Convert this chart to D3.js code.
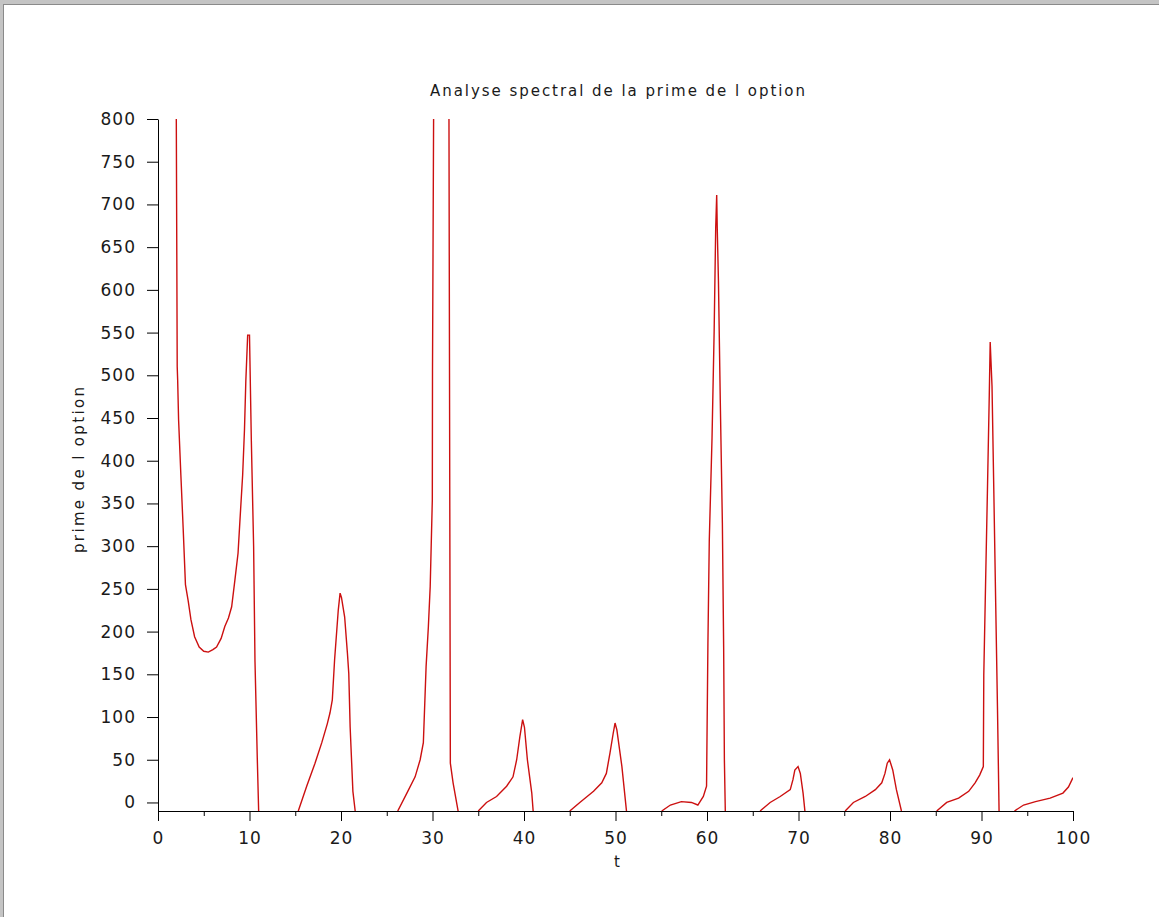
<!DOCTYPE html>
<html lang="fr">
  <head>
    <meta charset="utf-8">
    <title>Analyse spectral de la prime de l option</title>
    <script src="https://d3js.org/d3.v7.min.js"></script>
    <style>
      body { margin: 0; background: #fff; }
      svg { display: block; }
      .tick text { font-family: "DejaVu Sans", sans-serif; font-size: 17px; fill: #1a1a1a; letter-spacing: 1px; }
      .tick line, .domain { stroke: #000; }
      .lbl { font-family: "DejaVu Sans", sans-serif; font-size: 15px; fill: #1a1a1a; }
    </style>
  </head>
  <body>
    <div id="main"></div>
    <script>
      // values, [t, prime] ; each lobe ends at the lower bound
      var lobe1 = [[2.0, 800], [2.1, 510], [2.15, 494], [2.25, 448], [2.5, 383], [2.75, 321], [3.0, 255], [3.3, 236], [3.6, 214], [4.0, 194], [4.5, 182], [5.0, 177], [5.5, 176], [6.0, 179], [6.4, 182], [6.9, 192], [7.3, 206], [7.7, 216], [8.05, 229], [8.4, 260], [8.75, 292], [8.95, 329], [9.25, 383], [9.45, 436], [9.6, 494], [9.8, 547], [10.0, 547], [10.2, 424], [10.45, 300], [10.6, 165], [10.85, 52], [11.0, -10]];
      var lobe2 = [[15.33, -10], [16.25, 19], [17.16, 46], [17.9, 70], [18.5, 92], [18.8, 105], [19.05, 120], [19.3, 167], [19.5, 196], [19.7, 225], [19.9, 245], [20.05, 240], [20.4, 217], [20.7, 175], [20.85, 151], [21.0, 88], [21.3, 13], [21.55, -10]];
      var lobe3 = [[26.2, -10], [27.2, 11], [28.1, 30], [28.65, 50], [29.0, 70], [29.3, 159], [29.55, 206], [29.75, 253], [29.98, 354], [30.0, 505], [30.12, 800], [30.3, 1200], [31.6, 1200], [31.8, 800], [31.95, 46], [32.25, 23], [32.8, -10]];
      var lobe4 = [[35.0, -10], [35.9, 0], [37.0, 7], [38.1, 19], [38.8, 30], [39.2, 50], [39.55, 77], [39.85, 97], [40.05, 88], [40.37, 50], [40.85, 11], [41.0, -10]];
      var lobe5 = [[45.0, -10], [46.1, 0], [47.6, 13], [48.5, 23], [49.0, 34], [49.4, 58], [49.75, 81], [49.95, 93], [50.15, 85], [50.7, 42], [51.2, -10]];
      var lobe6 = [[55.05, -10], [56.0, -3], [57.2, 1], [58.3, 0], [59.0, -3], [59.6, 7], [59.95, 19], [60.1, 186], [60.25, 307], [60.55, 427], [60.78, 551], [60.95, 672], [61.06, 711], [61.12, 672], [61.25, 611], [61.45, 471], [61.68, 327], [61.82, 182], [61.9, 50], [62.0, -10]];
      var lobe7 = [[65.8, -10], [66.9, 0], [68.0, 7], [69.1, 15], [69.4, 27], [69.6, 38], [69.95, 42], [70.2, 34], [70.5, 11], [70.7, -10]];
      var lobe8 = [[75.1, -10], [76.0, 0], [77.3, 7], [78.4, 15], [79.1, 23], [79.45, 34], [79.7, 46], [79.95, 50], [80.3, 38], [80.7, 15], [81.25, -10]];
      var lobe9 = [[85.1, -10], [86.2, 0], [87.5, 5], [88.6, 13], [89.3, 23], [89.8, 32], [90.2, 42], [90.25, 149], [90.45, 259], [90.65, 366], [90.85, 477], [90.95, 539], [91.15, 487], [91.35, 362], [91.55, 234], [91.75, 108], [91.92, -10]];
      var lobe10 = [[93.6, -10], [94.6, -3], [95.9, 1], [97.5, 5], [98.9, 11], [99.5, 18], [100.0, 29]];
      var lobes = [lobe1, lobe2, lobe3, lobe4, lobe5, lobe6, lobe7, lobe8, lobe9, lobe10];

      var xMajor = d3.range(0, 101, 10);
      var xMinor = d3.range(5, 100, 10);
      var yTicks = d3.range(0, 801, 50);

      var W = 1159, H = 917;
      var svg = d3.select("#main").append("svg")
        .attr("width", W)
        .attr("height", H);

      // window frame
      svg.append("rect").attr("x", 0).attr("y", 0).attr("width", W).attr("height", 4).attr("fill", "#c4c4c4");
      svg.append("rect").attr("x", 0).attr("y", 0).attr("width", 3).attr("height", H).attr("fill", "#c4c4c4");
      svg.append("line").attr("x1", 3).attr("x2", W).attr("y1", 4.5).attr("y2", 4.5).attr("stroke", "#8a8a8a");
      svg.append("line").attr("x1", 3.5).attr("x2", 3.5).attr("y1", 4).attr("y2", H).attr("stroke", "#8a8a8a");

      var x = d3.scaleLinear().domain([0, 100]).range([158, 1073]);
      var y = d3.scaleLinear().domain([-10, 800]).range([811, 119]);

      svg.append("clipPath").attr("id", "plotclip")
        .append("rect")
        .attr("x", x(0)).attr("y", y(800))
        .attr("width", x(100) - x(0)).attr("height", y(-10) - y(800));

      var line = d3.line()
        .x(function(d) { return x(d[0]); })
        .y(function(d) { return y(d[1]); });

      svg.append("g").attr("clip-path", "url(#plotclip)")
        .selectAll("path").data(lobes).enter().append("path")
        .attr("d", line)
        .attr("fill", "none")
        .attr("stroke", "#cc1010")
        .attr("stroke-width", 1.4);

      // axes
      svg.append("g")
        .attr("transform", "translate(0," + y(-10) + ")")
        .call(d3.axisBottom(x).tickValues(xMinor).tickSize(5).tickSizeOuter(0).tickFormat(""));
      svg.append("g")
        .attr("transform", "translate(0," + y(-10) + ")")
        .call(d3.axisBottom(x).tickValues(xMajor).tickSize(10).tickSizeOuter(0).tickPadding(11));
      svg.append("g")
        .attr("transform", "translate(" + x(0) + ",0)")
        .call(d3.axisLeft(y).tickValues(yTicks).tickSize(11).tickSizeOuter(0).tickPadding(11));

      // texts
      svg.append("text").attr("class", "lbl")
        .attr("x", 617.5).attr("y", 96)
        .attr("text-anchor", "middle")
        .attr("textLength", 375).attr("lengthAdjust", "spacing")
        .text("Analyse spectral de la prime de l option");
      svg.append("text").attr("class", "lbl")
        .attr("x", 617).attr("y", 867)
        .attr("text-anchor", "middle")
        .text("t");
      svg.append("text").attr("class", "lbl")
        .attr("transform", "translate(84,470) rotate(-90)")
        .attr("text-anchor", "middle")
        .attr("textLength", 166).attr("lengthAdjust", "spacing")
        .text("prime de l option");
    </script>
  </body>
</html>
